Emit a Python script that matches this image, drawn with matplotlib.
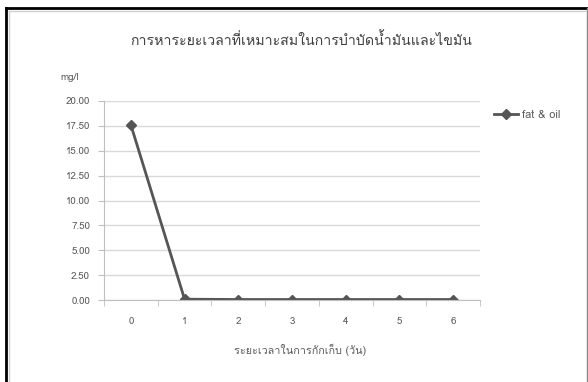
import matplotlib
matplotlib.use("Agg")
import matplotlib.pyplot as plt
from matplotlib import font_manager
from matplotlib.lines import Line2D

# Pick a family that can draw Thai, if one is installed
thai_candidates = []
for f in font_manager.fontManager.ttflist:
    if "Thai" in f.name or "Loma" in f.name or "Garuda" in f.name or "Tlwg" in f.name:
        thai_candidates.append(f.name)
families = list(dict.fromkeys(thai_candidates)) + ["DejaVu Sans"]
plt.rcParams["font.family"] = families

days = ["0", "1", "2", "3", "4", "5", "6"]
fat_oil = [17.6, 0.08, 0.05, 0.05, 0.05, 0.05, 0.05]
y_ticks = [0, 2.5, 5, 7.5, 10, 12.5, 15, 17.5, 20]

title = "การหาระยะเวลาที่เหมาะสมในการบำบัดน้ำมันและไขมัน"
x_label = "ระยะเวลาในการกักเก็บ (วัน)"
y_unit = "mg/l"
series_name = "fat & oil"

text_color = "#595959"
line_color = "#555555"
grid_color = "#d9d9d9"

fig = plt.figure(figsize=(5.88, 3.82), dpi=100)
W, H = 588, 382

ax = fig.add_axes([104 / W, 1 - 300 / H, (480 - 104) / W, (300 - 101) / H])
x = list(range(len(days)))
ax.plot(x, fat_oil, color=line_color, lw=2, marker="D", ms=5,
        markerfacecolor=line_color, markeredgecolor=line_color)

ax.set_xlim(-0.5, len(days) - 0.5)
ax.set_ylim(0, 20)
ax.set_yticks(y_ticks)
ax.set_yticklabels([f"{v:.2f}" for v in y_ticks])
ax.set_xticks(x)
ax.set_xticklabels(days)
ax.set_xticks([i - 0.5 for i in range(len(days) + 1)], minor=True)
ax.tick_params(axis="x", which="major", length=0, pad=12, labelsize=7, labelcolor=text_color)
ax.tick_params(axis="x", which="minor", length=4, color="#bfbfbf", direction="out")
ax.tick_params(axis="y", length=4, color="#bfbfbf", labelsize=7, labelcolor=text_color, pad=6)
ax.yaxis.grid(True, color=grid_color, lw=1)
ax.set_axisbelow(True)
for s in ["top", "right"]:
    ax.spines[s].set_visible(False)
ax.spines["left"].set_color("#bfbfbf")
ax.spines["bottom"].set_color("#bfbfbf")

fig.text(301 / W, 1 - 40 / H, title, ha="center", va="center", fontsize=10.2, color="#404040")
fig.text(300 / W, 1 - 350 / H, x_label, ha="center", va="center", fontsize=7.8, color=text_color)
fig.text(70 / W, 1 - 78 / H, y_unit, ha="center", va="center", fontsize=7, color=text_color)

# legend entry drawn to the right of the plot
leg_handle = Line2D([0], [0], color=line_color, lw=2, marker="D", ms=5)
fig.legend([leg_handle], [series_name], loc="center left",
           bbox_to_anchor=(484 / W, 1 - 115 / H), frameon=False,
           fontsize=8, labelcolor=text_color, handlelength=2.2, handletextpad=0.3)

# chart frame
fig.add_artist(Line2D([6 / W, 6 / W], [0, 1 - 8 / H], transform=fig.transFigure, color="black", lw=2))
fig.add_artist(Line2D([6 / W, 587 / W], [1 - 8 / H, 1 - 8 / H], transform=fig.transFigure, color="black", lw=2))
fig.add_artist(Line2D([587 / W, 587 / W], [0, 1 - 8 / H], transform=fig.transFigure, color="#888888", lw=1))
fig.add_artist(Line2D([9 / W, 9 / W], [0, 1 - 11 / H], transform=fig.transFigure, color="#d0d0d0", lw=1))
fig.add_artist(Line2D([9 / W, 585 / W], [1 - 11 / H, 1 - 11 / H], transform=fig.transFigure, color="#d0d0d0", lw=1))

fig.savefig("out.png", dpi=100)
